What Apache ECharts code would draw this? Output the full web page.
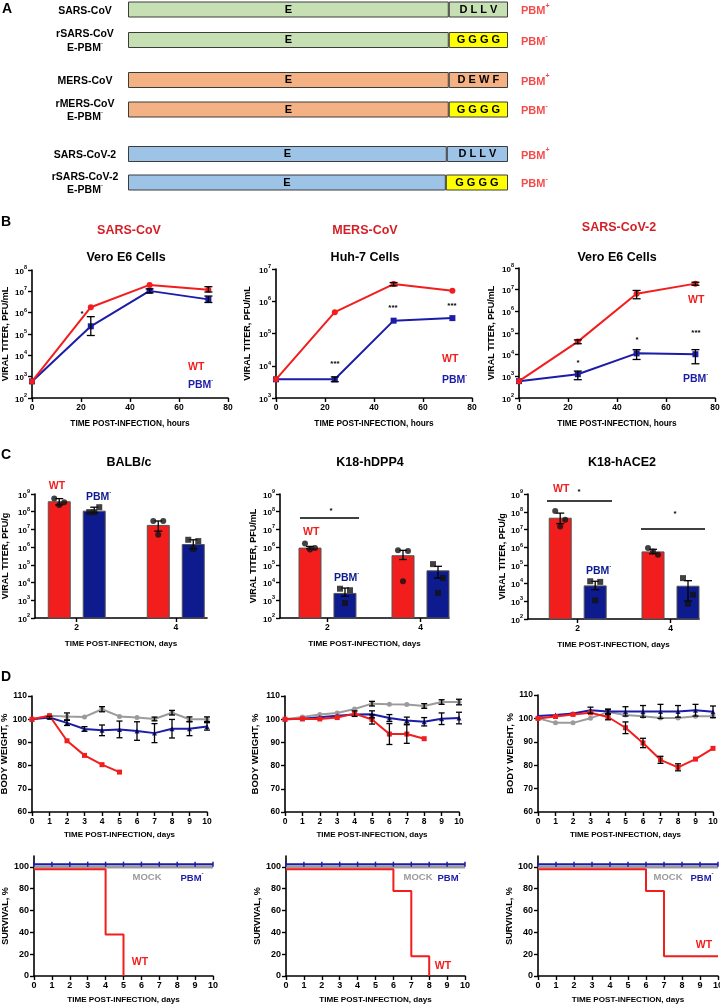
<!DOCTYPE html>
<html>
<head>
<meta charset="utf-8">
<script src="https://cdn.jsdelivr.net/npm/echarts@6/dist/echarts.min.js"></script>
<style>
  html, body { margin: 0; padding: 0; background: #fff; }
  #chart { width: 720px; height: 1007px; }
</style>
</head>
<body>
<div id="chart"></div>
<script>
const FONT = '"Liberation Sans", Arial, sans-serif';
const RED = "#f21d1d";
const BLUE = "#1c1ca8";
const NAVY = "#0d1b8e";
const GREY = "#9b9b9b";
const TITLE_RED = "#d41f26";

// ---------- A: E protein constructs ----------
const constructNames = ["SARS-CoV", "rSARS-CoV\nE-PBM-", "MERS-CoV", "rMERS-CoV\nE-PBM-", "SARS-CoV-2", "rSARS-CoV-2\nE-PBM-"];
const pbmMotifs = ["DLLV", "GGGG", "DEWF", "GGGG", "DLLV", "GGGG"];
const pbmStatus = ["+", "-", "+", "-", "+", "-"];
const eDomainSpan = [65, 65, 65, 65, 64.6, 64.4];
const motifSpan = [12, 12, 12, 12, 12.4, 12.6];

// ---------- B: growth kinetics ----------
const hoursB = [0, 24, 48, 72];
const sarsWT = [600, 1.8e6, 2e7, 1.2e7];
const sarsWTLo = [null, null, null, 9.3e6];
const sarsWTHi = [null, null, null, 1.65e7];
const sarsPBM = [600, 2.3e5, 1.05e7, 4.2e6];
const sarsPBMLo = [null, 8.5e4, 8.5e6, 3e6];
const sarsPBMHi = [null, 6.5e5, 1.3e7, 6e6];

const mersWT = [3.8e3, 4.6e5, 3.4e6, 2.1e6];
const mersWTLo = [null, null, 3e6, null];
const mersWTHi = [null, null, 3.8e6, null];
const mersPBM = [3.8e3, 3.8e3, 2.5e5, 3e5];
const mersPBMLo = [null, 3.2e3, null, null];
const mersPBMHi = [null, 4.5e3, null, null];

const sars2WT = [600, 4e4, 6.5e6, 1.9e7];
const sars2WTLo = [null, 3.2e4, 3.8e6, 1.6e7];
const sars2WTHi = [null, 4.8e4, 9.2e6, 2.2e7];
const sars2PBM = [600, 1.25e3, 1.15e4, 1.05e4];
const sars2PBMLo = [null, 7e2, 6e3, 3.8e3];
const sars2PBMHi = [null, 1.75e3, 1.7e4, 1.7e4];

// ---------- C: lung titers ----------
const daysC = [2, 4];
const balbWT = [3.9e8, 1.8e7];
const balbWTErr = [[2.4e8, 5.5e8], [8e6, 3e7]];
const balbWTDots = [[5.5e8, 3.4e8, 2.4e8], [3e7, 3e7, 5e6]];
const balbPBM = [1.15e8, 1.5e6];
const balbPBMErr = [[9e7, 1.8e8], [8e5, 2.6e6]];
const balbPBMDots = [[9.5e7, 1.8e8, 9.5e7], [2.6e6, 2.2e6, 8e5]];

const dpp4WT = [9.4e5, 3.5e5];
const dpp4WTErr = [[8e5, 1.1e6], [2e5, 6.6e5]];
const dpp4WTDots = [[1.6e6, 9e5, 7.3e5], [6.6e5, 6e5, 1.2e4]];
const dpp4PBM = [2.6e3, 4.9e4];
const dpp4PBMErr = [[1.7e3, 4.9e3], [1.8e4, 8.3e4]];
const dpp4PBMDots = [[4.5e3, 3.7e3, 700], [1.1e5, 1.8e4, 2.6e3]];

const ace2WT = [4.7e7, 6.1e5];
const ace2WTErr = [[2.2e7, 8.5e7], [4.5e5, 8e5]];
const ace2WTDots = [[1.1e8, 3.6e7, 1.5e7], [9.4e5, 4e5, 6e5]];
const ace2PBM = [7.6e3, 7.3e3];
const ace2PBMErr = [[4.4e3, 1.3e4], [1e3, 1.4e4]];
const ace2PBMDots = [[1.3e4, 1.2e4, 1.1e3], [1.95e4, 2.3e3, 720]];

// ---------- D: body weight and survival ----------
const daysD = [0, 1, 2, 3, 4, 5, 6, 7, 8, 9, 10];
const sarsMockW = [100, 101.5, 101.2, 101, 104.3, 101.2, 100.7, 100.1, 102.8, 100, 100];
const sarsMockE = [0, 0, 1.5, 0, 1.1, 0, 0, 0.8, 1, 1, 1];
const sarsPBMW = [100, 100.7, 98.4, 95.8, 95.2, 95.6, 94.9, 94, 95.9, 95.9, 96.9];
const sarsPBME = [0, 0.5, 1.1, 1, 2.3, 3.6, 4, 4.1, 4, 3, 1.6];
const sarsWTW = [100, 101.5, 90.7, 84.4, 80.4, 77.2];
const sarsWTE = [0, 0, 0, 0, 0, 0];

const mersMockW = [100, 100.9, 102, 102.7, 104.4, 106.7, 106.4, 106.3, 105.7, 107.4, 107.4];
const mersMockE = [0, 0, 0, 0, 0, 1, 0, 0, 1, 1, 1.2];
const mersPBMW = [100, 100.2, 100.8, 101.5, 102, 102.1, 100.5, 99.4, 98.9, 100.2, 100.5];
const mersPBME = [0, 0, 0, 0, 0, 1.5, 1.5, 1.5, 1.8, 2.5, 2.5];
const mersWTW = [100, 100.2, 100.1, 100.7, 102.4, 99.9, 93.6, 93.6, 91.6];
const mersWTE = [0, 0, 0, 0, 1.2, 2, 4.5, 4, 0];

const sars2MockW = [100, 98.1, 98.1, 100.1, 102.7, 101.5, 100.9, 100.2, 100.2, 100.9, 100.9];
const sars2MockE = [0, 0, 0, 0, 1, 0, 0, 0, 0, 0, 0];
const sars2PBMW = [101, 101.5, 102.1, 103.5, 103, 103, 103, 103, 103, 103.5, 102.8];
const sars2PBME = [0, 0, 0, 1.3, 1, 2, 2.5, 3, 2.5, 2.5, 2.5];
const sars2WTW = [100, 100.8, 101.7, 102.4, 100.6, 96, 89.5, 82.3, 79.1, 82.6, 87.2];
const sars2WTE = [0, 0, 0, 0, 1.2, 2.5, 2, 1.5, 1.5, 0, 0];

const mockSurv = [100, 100, 100, 100, 100, 100, 100, 100, 100, 100, 100];
const pbmSurv = [102.5, 102.5, 102.5, 102.5, 102.5, 102.5, 102.5, 102.5, 102.5, 102.5, 102.5];
const sarsWTSurv = [97.8, 97.8, 97.8, 97.8, 38, 0];
const mersWTSurv = [97.8, 97.8, 97.8, 97.8, 97.8, 97.8, 78, 18, 0];
const sars2WTSurv = [97.8, 97.8, 97.8, 97.8, 97.8, 97.8, 78, 18, 18, 18, 18];

// ---------- helpers ----------
const option = {
  animation: false,
  backgroundColor: "#fff",
  grid: [], xAxis: [], yAxis: [], series: [],
  graphic: { elements: [] }
};

function axis(extra, labelSize, nameSize) {
  const a = {
    axisLine: { show: true, onZero: false, lineStyle: { color: "#000", width: 1.6 } },
    axisTick: { show: true, length: 4, lineStyle: { color: "#000", width: 1.4 } },
    axisLabel: { color: "#000", fontWeight: "bold", fontSize: labelSize, fontFamily: FONT, margin: 5 },
    splitLine: { show: false },
    nameLocation: "middle",
    nameTextStyle: { color: "#000", fontWeight: "bold", fontFamily: FONT, fontSize: nameSize }
  };
  for (const k in extra) {
    if (a[k] && typeof a[k] === "object" && !Array.isArray(a[k])) Object.assign(a[k], extra[k]);
    else a[k] = extra[k];
  }
  return a;
}

function addGrid(box, xAx, yAx) {
  const idx = option.grid.length;
  option.grid.push(Object.assign({ containLabel: false, outerBoundsMode: "none" }, box));
  option.xAxis.push(Object.assign({ gridIndex: idx }, xAx));
  option.yAxis.push(Object.assign({ gridIndex: idx }, yAx));
  return idx;
}

function errSeries(gi, data, dx, cap) {
  return {
    type: "custom", xAxisIndex: gi, yAxisIndex: gi, data: data, z: 6, silent: true,
    encode: { x: 0, y: [1, 2] },
    renderItem: (params, api) => {
      const lo = api.coord([api.value(0), api.value(1)]);
      const hi = api.coord([api.value(0), api.value(2)]);
      const x = lo[0] + dx;
      const st = { stroke: "#000", lineWidth: 1.3 };
      return {
        type: "group", children: [
          { type: "line", shape: { x1: x, y1: lo[1], x2: x, y2: hi[1] }, style: st },
          { type: "line", shape: { x1: x - cap, y1: lo[1], x2: x + cap, y2: lo[1] }, style: st },
          { type: "line", shape: { x1: x - cap, y1: hi[1], x2: x + cap, y2: hi[1] }, style: st }
        ]
      };
    }
  };
}

const logLabel = {
  formatter: v => "{b|10}{s|" + Math.round(Math.log10(v)) + "}",
  rich: {
    b: { fontSize: 8, fontWeight: "bold", fontFamily: FONT, color: "#000", lineHeight: 11, verticalAlign: "bottom" },
    s: { fontSize: 5.5, fontWeight: "bold", fontFamily: FONT, color: "#000", verticalAlign: "top" }
  }
};

function supRich(color, size) {
  return {
    m: { fontSize: size, fontWeight: "bold", fontFamily: FONT, fill: color, color: color, lineHeight: size + 3, verticalAlign: "bottom" },
    s: { fontSize: Math.round(size * 0.6), fontWeight: "bold", fontFamily: FONT, fill: color, color: color, verticalAlign: "top" }
  };
}

function txt(x, y, text, o) {
  o = o || {};
  const al = o.align || "center";
  return {
    type: "text", x: x, y: y, silent: true, z: 20,
    style: {
      text: text, fill: o.color || "#000", fontSize: o.size || 10, fontWeight: "bold", fontFamily: FONT,
      align: al, verticalAlign: "middle", textAlign: al, textVerticalAlign: "middle", rich: o.rich
    }
  };
}
function supTxt(x, y, main, sup, color, size, align) {
  return txt(x, y, "{m|" + main + "}{s|" + sup + "}", { color: color, size: size, align: align, rich: supRich(color, size) });
}
function hline(x1, x2, y) {
  return { type: "line", silent: true, z: 20, shape: { x1: x1, y1: y, x2: x2, y2: y }, style: { stroke: "#000", lineWidth: 1.5 } };
}
const G = option.graphic.elements;

// ---------- A ----------
const familyColor = ["#c6e0b4", "#f4b183", "#9dc3e6"];
const gridA = [{ top: -5.75, height: 61 }, { top: 65.25, height: 59 }, { top: 139.75, height: 57 }];
gridA.forEach((g, f) => {
  const rows = [2 * f, 2 * f + 1];
  const gi = addGrid({ left: 128, width: 380, top: g.top, height: g.height },
    { type: "value", min: 0, max: 77, show: false },
    {
      type: "category", inverse: true, data: rows.map(i => constructNames[i]),
      axisLine: { show: false }, axisTick: { show: false },
      axisLabel: {
        margin: 43, align: "center", color: "#000", fontWeight: "bold", fontSize: 10.5, fontFamily: FONT, lineHeight: 13,
        formatter: v => v.split("\n").map(l => /PBM-$/.test(l) ? "{m|" + l.slice(0, -1) + "}{s|-}" : "{m|" + l + "}").join("\n"),
        rich: supRich("#000", 10.5)
      }
    });
  const lab = { show: true, position: "inside", color: "#000", fontWeight: "bold", fontSize: 11, fontFamily: FONT };
  option.series.push({
    type: "bar", xAxisIndex: gi, yAxisIndex: gi, stack: "e" + f, barWidth: 16,
    data: rows.map(i => ({ value: eDomainSpan[i], itemStyle: { color: familyColor[f] } })),
    itemStyle: { borderColor: "#3c3c3c", borderWidth: 1 },
    label: Object.assign({ formatter: "E" }, lab)
  });
  option.series.push({
    type: "bar", xAxisIndex: gi, yAxisIndex: gi, stack: "e" + f, barWidth: 16,
    data: rows.map(i => ({ value: motifSpan[i], itemStyle: { color: pbmStatus[i] === "+" ? familyColor[f] : "#ffff00" } })),
    itemStyle: { borderColor: "#3c3c3c", borderWidth: 1 },
    label: Object.assign({ formatter: p => pbmMotifs[rows[p.dataIndex]].split("").join(" ") }, lab)
  });
  option.series.push({
    type: "scatter", xAxisIndex: gi, yAxisIndex: gi, symbolSize: 0, silent: true,
    data: rows.map(i => [eDomainSpan[i] + motifSpan[i], constructNames[i]]),
    label: {
      show: true, position: "right", distance: 13,
      formatter: p => "{m|PBM}{s|" + pbmStatus[rows[p.dataIndex]] + "}",
      rich: supRich(RED, 11)
    }
  });
});

// ---------- B ----------
function titerCurve(box, yMin, yMax, nameGap, wt, wtLo, wtHi, pbm, pbmLo, pbmHi) {
  const gi = addGrid(box,
    axis({ type: "value", min: 0, max: 80, interval: 20, name: "TIME POST-INFECTION, hours", nameGap: 22 }, 8.5, 8.3),
    axis({ type: "log", logBase: 10, min: yMin, max: yMax, name: "VIRAL TITER, PFU/mL", nameGap: nameGap, axisLabel: logLabel }, 8, 9));
  const pts = arr => hoursB.map((h, i) => [h, arr[i]]);
  const errs = (lo, hi) => hoursB.map((h, i) => [h, lo[i], hi[i]]).filter(d => d[1] != null);
  option.series.push({
    type: "line", xAxisIndex: gi, yAxisIndex: gi, data: pts(pbm), symbol: "rect", symbolSize: 6,
    lineStyle: { color: BLUE, width: 2 }, itemStyle: { color: BLUE, borderWidth: 0 }, z: 3
  });
  option.series.push({
    type: "line", xAxisIndex: gi, yAxisIndex: gi, data: pts(wt), symbol: "circle", symbolSize: 6,
    lineStyle: { color: RED, width: 2 }, itemStyle: { color: RED, borderWidth: 0 }, z: 4
  });
  option.series.push(errSeries(gi, errs(wtLo, wtHi), 0, 4));
  option.series.push(errSeries(gi, errs(pbmLo, pbmHi), 0, 4));
}
titerCurve({ left: 32, top: 270, width: 196, height: 128 }, 1e2, 1e8, 22, sarsWT, sarsWTLo, sarsWTHi, sarsPBM, sarsPBMLo, sarsPBMHi);
titerCurve({ left: 276, top: 269, width: 196, height: 129 }, 1e3, 1e7, 24, mersWT, mersWTLo, mersWTHi, mersPBM, mersPBMLo, mersPBMHi);
titerCurve({ left: 519, top: 268, width: 196, height: 130 }, 1e2, 1e8, 23, sars2WT, sars2WTLo, sars2WTHi, sars2PBM, sars2PBMLo, sars2PBMHi);

// ---------- C ----------
const BAR_W = 23, BAR_OFF = 17.5;
const jitter = [-5, 5, 0];
function titerBars(box, xMin, xMax, yName, nameGap, wt, wtErr, wtDots, pbm, pbmErr, pbmDots) {
  const gi = addGrid(box,
    axis({
      type: "value", min: xMin, max: xMax, name: "TIME POST-INFECTION, days", nameGap: 22,
      axisTick: { customValues: daysC }, axisLabel: { customValues: daysC }
    }, 8.5, 8.1),
    axis({ type: "log", logBase: 10, min: 1e2, max: 1e9, name: yName, nameGap: nameGap, axisLabel: logLabel }, 8, 9));
  [[wt, RED], [pbm, NAVY]].forEach(([vals, col]) => {
    option.series.push({
      type: "bar", xAxisIndex: gi, yAxisIndex: gi, barWidth: BAR_W, barGap: "52%",
      data: daysC.map((d, i) => [d, vals[i]]),
      itemStyle: { color: col, borderColor: "#555", borderWidth: 1 }, z: 2
    });
  });
  [[wtErr, -BAR_OFF], [pbmErr, BAR_OFF]].forEach(([e, dx]) => {
    option.series.push(errSeries(gi, daysC.map((d, i) => [d, e[i][0], e[i][1]]), dx, 4));
  });
  [[wtDots, -BAR_OFF, "circle"], [pbmDots, BAR_OFF, "rect"]].forEach(([dots, dx, sym]) => {
    const data = [];
    daysC.forEach((d, i) => dots[i].forEach((v, k) => data.push({ value: [d, v], symbolOffset: [dx + jitter[k], 0] })));
    option.series.push({
      type: "scatter", xAxisIndex: gi, yAxisIndex: gi, data: data, symbol: sym, symbolSize: 6,
      itemStyle: { color: "#111" }, z: 7
    });
  });
}
titerBars({ left: 35, top: 494, width: 172, height: 124 }, 1.157, 4.631, "VIRAL TITER, PFU/g", 25,
  balbWT, balbWTErr, balbWTDots, balbPBM, balbPBMErr, balbPBMDots);
titerBars({ left: 280, top: 494, width: 169, height: 124 }, 0.979, 4.613, "VIRAL TITER, PFU/mL", 22,
  dpp4WT, dpp4WTErr, dpp4WTDots, dpp4PBM, dpp4PBMErr, dpp4PBMDots);
titerBars({ left: 528, top: 494, width: 171, height: 125 }, 0.929, 4.614, "VIRAL TITER, PFU/g", 19,
  ace2WT, ace2WTErr, ace2WTDots, ace2PBM, ace2PBMErr, ace2PBMDots);

// ---------- D: weight ----------
function weightPlot(box, nameGap, mock, mockE, pbm, pbmE, wt, wtE) {
  const gi = addGrid(box,
    axis({ type: "value", min: 0, max: 10, interval: 1, name: "TIME POST-INFECTION, days", nameGap: 19 }, 8.5, 8),
    axis({ type: "value", min: 60, max: 110, interval: 10, name: "BODY WEIGHT, %", nameGap: nameGap }, 8.5, 9.5));
  const pts = arr => arr.map((v, i) => [daysD[i], v]);
  const errs = (arr, e) => arr.map((v, i) => [daysD[i], v - e[i], v + e[i]]).filter((d, i) => e[i] > 0);
  [[mock, GREY, "circle"], [pbm, BLUE, "triangle"], [wt, RED, "rect"]].forEach(([arr, col, sym], k) => {
    option.series.push({
      type: "line", xAxisIndex: gi, yAxisIndex: gi, data: pts(arr), symbol: sym, symbolSize: 5,
      lineStyle: { color: col, width: 2 }, itemStyle: { color: col, borderWidth: 0 }, z: 2 + k
    });
  });
  option.series.push(errSeries(gi, errs(mock, mockE), 0, 3));
  option.series.push(errSeries(gi, errs(pbm, pbmE), 0, 3));
  option.series.push(errSeries(gi, errs(wt, wtE), 0, 3));
}
weightPlot({ left: 32, top: 696, width: 175, height: 116 }, 23, sarsMockW, sarsMockE, sarsPBMW, sarsPBME, sarsWTW, sarsWTE);
weightPlot({ left: 285, top: 696, width: 174, height: 116 }, 25, mersMockW, mersMockE, mersPBMW, mersPBME, mersWTW, mersWTE);
weightPlot({ left: 538, top: 695, width: 175, height: 117 }, 23, sars2MockW, sars2MockE, sars2PBMW, sars2PBME, sars2WTW, sars2WTE);

// ---------- D: survival ----------
const survTicks = [0, 20, 40, 60, 80, 100];
function survivalPlot(box, wt) {
  const gi = addGrid(box,
    axis({ type: "value", min: 0, max: 10, interval: 1, name: "TIME POST-INFECTION, days", nameGap: 20 }, 9, 8.1),
    axis({
      type: "value", min: 0, max: 110, name: "SURVIVAL, %", nameGap: 22,
      axisTick: { customValues: survTicks }, axisLabel: { customValues: survTicks }
    }, 9, 9));
  const pts = arr => arr.map((v, i) => [daysD[i], v]);
  option.series.push({
    type: "line", xAxisIndex: gi, yAxisIndex: gi, data: pts(mockSurv), showSymbol: false,
    lineStyle: { color: GREY, width: 3 }, z: 2
  });
  option.series.push({
    type: "line", xAxisIndex: gi, yAxisIndex: gi, data: pts(pbmSurv), symbol: "rect", symbolSize: [1.5, 5],
    lineStyle: { color: BLUE, width: 2 }, itemStyle: { color: BLUE, borderWidth: 0 }, z: 3
  });
  option.series.push({
    type: "line", xAxisIndex: gi, yAxisIndex: gi, data: pts(wt), step: "end", showSymbol: false,
    lineStyle: { color: RED, width: 2 }, z: 4
  });
}
survivalPlot({ left: 34, top: 856, width: 179, height: 120 }, sarsWTSurv);
survivalPlot({ left: 286, top: 856, width: 179, height: 120 }, mersWTSurv);
survivalPlot({ left: 538, top: 856, width: 180, height: 120 }, sars2WTSurv);

// ---------- annotations ----------
G.push(txt(7, 9, "A", { size: 14 }), txt(6, 222, "B", { size: 14 }), txt(6, 455, "C", { size: 14 }), txt(6, 677, "D", { size: 14 }));
G.push(txt(129, 231, "SARS-CoV", { color: TITLE_RED, size: 12.5 }), txt(365, 231, "MERS-CoV", { color: TITLE_RED, size: 12.5 }),
  txt(619, 228, "SARS-CoV-2", { color: TITLE_RED, size: 12.5 }));
G.push(txt(126, 258, "Vero E6 Cells", { size: 12.5 }), txt(365, 258, "Huh-7 Cells", { size: 12.5 }), txt(617, 258, "Vero E6 Cells", { size: 12.5 }));
G.push(txt(129, 463, "BALB/c", { size: 12.5 }), txt(370, 463, "K18-hDPP4", { size: 12.5 }), txt(622, 463, "K18-hACE2", { size: 12.5 }));

// B legends and stars
G.push(txt(188, 367, "WT", { color: RED, size: 10.5, align: "left" }), supTxt(188, 384, "PBM", "-", BLUE, 10.5, "left"));
G.push(txt(442, 359, "WT", { color: RED, size: 10.5, align: "left" }), supTxt(442, 379, "PBM", "-", BLUE, 10.5, "left"));
G.push(txt(688, 300, "WT", { color: RED, size: 10.5, align: "left" }), supTxt(683, 378, "PBM", "-", BLUE, 10.5, "left"));
G.push(txt(82, 314, "*", { size: 8 }), txt(335, 364, "***", { size: 8 }), txt(393, 308, "***", { size: 8 }), txt(452, 306, "***", { size: 8 }));
G.push(txt(578, 363, "*", { size: 8 }), txt(637, 340, "*", { size: 8 }), txt(696, 333, "***", { size: 8 }));

// C legends and significance bars
G.push(txt(57, 486, "WT", { color: RED, size: 10.5 }), supTxt(86, 496, "PBM", "-", NAVY, 10.5, "left"));
G.push(txt(303, 532, "WT", { color: RED, size: 10.5, align: "left" }), supTxt(334, 577, "PBM", "-", NAVY, 10.5, "left"));
G.push(txt(553, 489, "WT", { color: RED, size: 10.5, align: "left" }), supTxt(586, 570, "PBM", "-", NAVY, 10.5, "left"));
G.push(hline(300, 359, 518), txt(331, 511, "*", { size: 8 }));
G.push(hline(547, 612, 501), txt(579, 492, "*", { size: 8 }), hline(641, 705, 529), txt(675, 514, "*", { size: 8 }));

// survival legends
[[147, 192, 140, 962], [418, 449, 443, 966], [668, 702, 704, 945]].forEach(([mx, px, wx, wy]) => {
  G.push(txt(mx, 877, "MOCK", { color: GREY, size: 9.5 }), supTxt(px, 877, "PBM", "-", BLUE, 9.5, "center"),
    txt(wx, wy, "WT", { color: RED, size: 10.5 }));
});

const chart = echarts.init(document.getElementById("chart"), null, { renderer: "canvas" });
chart.setOption(option);
</script>
</body>
</html>
